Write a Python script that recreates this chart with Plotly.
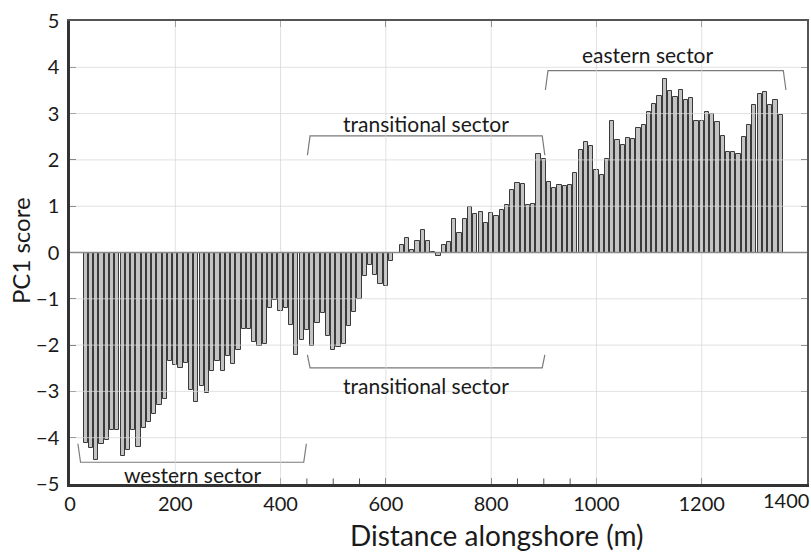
import plotly.graph_objects as go

# PC1 score of each transect, 10 m apart along the shore
distance_m = list(range(30, 1351, 10))
pc1_score = [
    -4.11, -4.22, -4.48, -4.13, -4.04, -3.84, -3.84, -4.40, -4.27, -3.84,
    -4.19, -3.80, -3.67, -3.48, -3.29, -3.16, -2.35, -2.42, -2.50, -2.39,
    -2.96, -3.22, -2.89, -3.04, -2.57, -2.35, -2.55, -2.24, -2.40, -2.10,
    -1.65, -1.65, -1.94, -2.01, -1.98, -1.20, -1.03, -1.27, -1.20, -1.56,
    -2.21, -1.88, -1.67, -2.01, -1.52, -1.31, -1.80, -2.10, -2.04, -1.97,
    -1.58, -1.29, -1.00, -0.50, -0.26, -0.48, -0.68, -0.73, -0.19, 0.00,
    0.16, 0.31, 0.05, 0.24, 0.48, 0.24, 0.02, -0.08, 0.16, 0.22,
    0.72, 0.42, 0.73, 0.98, 0.83, 0.87, 0.64, 0.85, 0.79, 0.92,
    1.02, 1.34, 1.51, 1.49, 1.02, 1.05, 2.12, 2.03, 1.52, 1.39,
    1.46, 1.44, 1.46, 1.71, 2.22, 2.38, 2.31, 1.79, 1.68, 2.02,
    2.84, 2.44, 2.33, 2.47, 2.46, 2.69, 2.75, 3.03, 3.21, 3.39,
    3.74, 3.49, 3.36, 3.50, 3.29, 3.34, 2.85, 2.85, 3.04, 3.00,
    2.82, 2.51, 2.16, 2.16, 2.13, 2.49, 2.75, 3.19, 3.42, 3.47,
    3.18, 3.30, 2.98,
]

x_ticks = [0, 200, 400, 600, 800, 1000, 1200, 1400]
y_ticks = [-5, -4, -3, -2, -1, 0, 1, 2, 3, 4, 5]
minor_x_ticks = [450, 500, 550, 850, 900, 950]

# sector brackets: label, start, end, bracket level, hook end level, label x, label y
sectors = [
    ("western sector", 20, 444, -4.53, -4.13, 232, -4.79),
    ("transitional sector", 456, 897, -2.49, -2.21, 676, -2.88),
    ("transitional sector", 456, 897, 2.52, 2.10, 676, 2.78),
    ("eastern sector", 908, 1355, 3.93, 3.51, 1098, 4.28),
]
hook_dx = 5

FONT = "Lato, 'Open Sans', sans-serif"
TXT = "#1a1a1a"
TICK_SIZE = 20

fig = go.Figure()

fig.add_trace(go.Bar(
    x=distance_m, y=pc1_score, width=8,
    marker=dict(color="#c3c3c3", line=dict(color="#3a3a3a", width=1)),
    showlegend=False, hoverinfo="x+y",
))

# sector brackets
for label, x0, x1, yb, yh, tx, ty in sectors:
    fig.add_trace(go.Scatter(
        x=[x0 - hook_dx, x0, x1, x1 + hook_dx], y=[yh, yb, yb, yh],
        mode="lines", line=dict(color="#7a7a7a", width=1.2),
        showlegend=False, hoverinfo="skip",
    ))
    fig.add_annotation(x=tx, y=ty, text=label, showarrow=False,
                       font=dict(family=FONT, size=21, color=TXT))

shapes = []
# grid drawn over the bars
for xv in x_ticks[1:-1]:
    shapes.append(dict(type="line", xref="x", yref="paper", x0=xv, x1=xv, y0=0, y1=1,
                       line=dict(color="rgba(215,215,215,0.75)", width=1), layer="above"))
for yv in y_ticks[1:-1]:
    if yv == 0:
        continue
    shapes.append(dict(type="line", xref="paper", yref="y", x0=0, x1=1, y0=yv, y1=yv,
                       line=dict(color="rgba(215,215,215,0.75)", width=1), layer="above"))
# zero line
shapes.append(dict(type="line", xref="paper", yref="y", x0=0, x1=1, y0=0, y1=0,
                   line=dict(color="#8a8a8a", width=1.5), layer="above"))
# short marks on the bottom axis
for xv in minor_x_ticks:
    shapes.append(dict(type="line", xref="x", yref="paper", x0=xv, x1=xv, y0=0, y1=0.012,
                       line=dict(color="#555555", width=1), layer="above"))
fig.update_layout(shapes=shapes)

# top and right frame
fig.add_trace(go.Scatter(x=[None], y=[None], xaxis="x2", yaxis="y2",
                         showlegend=False, hoverinfo="skip"))

# the last x label sits against the right edge of the page
x_ticktext = [str(v) for v in x_ticks[:-1]] + [""]

fig.update_layout(
    width=811, height=554,
    margin=dict(l=70, r=4, t=21, b=70, autoexpand=False),
    paper_bgcolor="white", plot_bgcolor="white",
    bargap=0,
    font=dict(family=FONT, size=TICK_SIZE, color=TXT),
    xaxis=dict(
        range=[0, 1400], tickvals=x_ticks, ticktext=x_ticktext,
        showgrid=False, zeroline=False,
        ticks="inside", ticklen=6, tickcolor="#444444",
        showline=True, linecolor="#333333", linewidth=2.5,
        tickfont=dict(size=TICK_SIZE, color=TXT), ticklabeloverflow="allow",
        automargin=False,
    ),
    yaxis=dict(
        range=[-5, 5], tickvals=y_ticks, showgrid=False, zeroline=False,
        ticks="inside", ticklen=6, tickcolor="#444444",
        showline=True, linecolor="#333333", linewidth=2.5,
        tickfont=dict(size=TICK_SIZE, color=TXT), ticklabelstandoff=4,
        ticklabeloverflow="allow", automargin=False,
    ),
    xaxis2=dict(
        overlaying="x", side="top", range=[0, 1400], tickvals=x_ticks,
        showticklabels=False, showgrid=False, zeroline=False,
        ticks="inside", ticklen=6, tickcolor="#555555",
        showline=True, linecolor="#555555", linewidth=1.5, automargin=False,
    ),
    yaxis2=dict(
        overlaying="y", side="right", range=[-5, 5], tickvals=y_ticks,
        showticklabels=False, showgrid=False, zeroline=False,
        ticks="inside", ticklen=6, tickcolor="#555555",
        showline=True, linecolor="#555555", linewidth=1.5, automargin=False,
    ),
)

fig.add_annotation(xref="paper", yref="paper", x=1.0054, y=-0.034, xanchor="right",
                   yanchor="middle", text=str(x_ticks[-1]), showarrow=False,
                   font=dict(family=FONT, size=TICK_SIZE, color=TXT))

# axis titles
fig.add_annotation(xref="paper", yref="paper", x=0.58, y=-0.111, yanchor="middle",
                   text="Distance alongshore (m)", showarrow=False,
                   font=dict(family=FONT, size=28, color=TXT))
fig.add_annotation(xref="paper", yref="paper", x=-0.068, y=0.505, xanchor="center",
                   yanchor="middle", textangle=-90, text="PC1 score", showarrow=False,
                   font=dict(family=FONT, size=24, color=TXT))

fig.write_html("out.html")
